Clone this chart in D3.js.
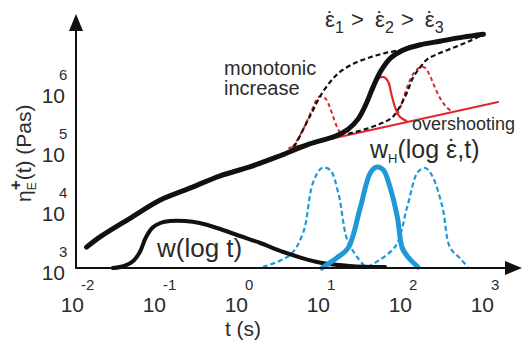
<!DOCTYPE html>
<html><head><meta charset="utf-8">
<script src="https://cdn.jsdelivr.net/npm/d3@7"></script>
<style>
body{margin:0;background:#fff}
svg{display:block}
text{font-family:"Liberation Sans",Arial,sans-serif;fill:#2b2b2b}
</style>
</head><body><svg id="c" width="522" height="347"></svg>
<script>
// ---- data (x: log10 t [s], y: log10 eta [Pa s]; weights: relative 0..1) ----
const xTickExps = [-2, -1, 0, 1, 2, 3];
const yTickExps = [3, 4, 5, 6];

const etaRate2 = [[-1.92,3.37],[-1.76,3.54],[-1.39,3.86],[-1.02,4.17],[-0.66,4.37],[-0.29,4.58],[0.07,4.73],[0.44,4.92],[0.80,5.12],[1.11,5.25],[1.27,5.37],[1.39,5.54],[1.49,5.80],[1.57,6.07],[1.67,6.36],[1.79,6.58],[1.94,6.71],[2.15,6.80],[2.39,6.86],[2.67,6.93],[2.92,6.98]];
const etaRate1 = [[0.54,4.97],[0.63,5.12],[0.73,5.39],[0.83,5.66],[0.93,5.93],[1.05,6.17],[1.17,6.34],[1.35,6.49],[1.54,6.59],[1.72,6.66],[1.90,6.71],[2.02,6.76]];
const etaRate3 = [[1.27,5.29],[1.48,5.37],[1.66,5.46],[1.80,5.56],[1.90,5.75],[1.99,6.00],[2.06,6.24],[2.15,6.42],[2.24,6.56],[2.39,6.66],[2.57,6.76],[2.73,6.85],[2.88,6.95]];
const lveLine = [[0.55,5.05],[3.10,5.83]];
const overshoot1 = [[0.54,4.97],[0.63,5.14],[0.73,5.39],[0.83,5.70],[0.90,5.90],[0.95,5.93],[1.00,5.88],[1.05,5.73],[1.10,5.53],[1.15,5.36],[1.21,5.25]];
const overshoot2 = [[1.17,5.25],[1.29,5.41],[1.39,5.54],[1.46,5.71],[1.54,5.95],[1.60,6.15],[1.66,6.25],[1.71,6.25],[1.76,6.17],[1.80,5.95],[1.85,5.71],[1.90,5.58],[1.98,5.51]];
const overshoot3 = [[1.87,5.61],[1.93,5.83],[2.00,6.12],[2.07,6.32],[2.15,6.42],[2.21,6.41],[2.27,6.27],[2.33,6.07],[2.39,5.90],[2.46,5.76],[2.54,5.66]];

const wLogT = [[-1.60,0.00],[-1.46,0.02],[-1.35,0.07],[-1.27,0.16],[-1.20,0.30],[-1.12,0.40],[-1.02,0.45],[-0.90,0.47],[-0.72,0.47],[-0.54,0.45],[-0.33,0.40],[-0.05,0.32],[0.20,0.25],[0.48,0.16],[0.89,0.06],[1.29,0.02],[1.72,0.01]];
const wH1 = [[0.23,0.01],[0.56,0.13],[0.72,0.35],[0.84,0.85],[0.95,1.00],[1.05,0.98],[1.15,0.75],[1.26,0.28],[1.38,0.11],[1.48,0.01]];
const wH2 = [[0.95,0.00],[1.13,0.10],[1.27,0.20],[1.42,0.61],[1.54,0.95],[1.62,1.01],[1.70,0.98],[1.78,0.81],[1.87,0.51],[1.93,0.20],[2.00,0.11],[2.12,0.01]];
const wH3 = [[1.51,0.01],[1.84,0.21],[1.99,0.61],[2.12,0.96],[2.21,1.00],[2.29,0.93],[2.42,0.61],[2.51,0.21],[2.63,0.10],[2.73,0.01]];

// ---- scales ----
const x = d3.scaleLinear().domain([-2, 3]).range([80, 490]);
const y = d3.scaleLinear().domain([3, 6]).range([269, 92]);
const yW = d3.scaleLinear().domain([0, 1]).range([268, 168]);

const svg = d3.select("#c");
const BLACK = "#111", RED = "#e0262b", BLUE = "#1f98d8";

const lineEta = d3.line().x(d => x(d[0])).y(d => y(d[1])).curve(d3.curveCatmullRom.alpha(0.5));
const lineW = d3.line().x(d => x(d[0])).y(d => yW(d[1])).curve(d3.curveCatmullRom.alpha(0.5));

function path(gen, data, color, width, dash) {
  const p = svg.append("path").attr("d", gen(data)).attr("fill", "none")
    .attr("stroke", color).attr("stroke-width", width)
    .attr("stroke-linecap", "round").attr("stroke-linejoin", "round");
  if (dash) p.attr("stroke-dasharray", dash).attr("stroke-linecap", "butt");
  return p;
}

// weight distributions
path(lineW, wH1, BLUE, 2.2, "5,3");
path(lineW, wH3, BLUE, 2.2, "5,3");
path(lineW, wLogT, BLACK, 4);
path(lineW, wH2, BLUE, 5);

// axes
svg.append("line").attr("x1", 76).attr("y1", 269).attr("x2", 76).attr("y2", 28)
  .attr("stroke", BLACK).attr("stroke-width", 2);
svg.append("path").attr("d", "M76,14 L69,31 L83,31 Z").attr("fill", BLACK);
svg.append("line").attr("x1", 75).attr("y1", 268).attr("x2", 508).attr("y2", 268)
  .attr("stroke", BLACK).attr("stroke-width", 2);
svg.append("path").attr("d", "M522,268 L505,261 L505,275 Z").attr("fill", BLACK);

// red overshoot / LVE
path(lineEta, lveLine, RED, 2);
path(lineEta, overshoot1, RED, 2, "4,3");
path(lineEta, overshoot3, RED, 2, "4,3");
path(lineEta, overshoot2, RED, 2.2);

// stress growth curves
path(lineEta, etaRate1, BLACK, 2.2, "5,3");
path(lineEta, etaRate3, BLACK, 2.2, "5,3");
path(lineEta, etaRate2, BLACK, 5);

// tick labels x
const xt = svg.append("g");
xTickExps.forEach(e => {
  const p = x(e);
  xt.append("text").attr("x", p + 4).attr("y", 312).attr("text-anchor", "end")
    .attr("font-size", 21).text("10");
  xt.append("text").attr("x", p + 1).attr("y", 290).attr("text-anchor", "start")
    .attr("font-size", 15).text(e < 0 ? "-" + Math.abs(e) : String(e));
});
// tick labels y
const yt = svg.append("g");
yTickExps.forEach(e => {
  const p = y(e);
  yt.append("text").attr("x", 65).attr("y", p + 10.5).attr("text-anchor", "end")
    .attr("font-size", 21).text("10");
  yt.append("text").attr("x", 59).attr("y", p - 12.5).attr("text-anchor", "start")
    .attr("font-size", 15).text(String(e));
});

// axis titles
svg.append("text").attr("x", 243).attr("y", 336).attr("text-anchor", "middle")
  .attr("font-size", 21).text("t (s)");

const yl = svg.append("text").attr("transform", "translate(31,202) rotate(-90)")
  .attr("font-size", 21);
yl.append("tspan").text("η");
yl.append("tspan").attr("font-size", 12).attr("dy", 5).text("E");
yl.append("tspan").attr("font-size", 17).attr("dx", -8).attr("dy", -15).attr("font-weight", "bold").text("+");
yl.append("tspan").attr("dy", 10).text("(t) (Pas)");

// epsilon with dot above (dot glyph shifted back over the epsilon)
function epsDot(t, size, dx) {
  t.append("tspan").attr("dx", dx || 0).text("ε");
  t.append("tspan").attr("dx", -0.37 * size).text("\u02D9");
}

// annotations
const rates = svg.append("text").attr("x", 325).attr("y", 27).attr("font-size", 22);
[["1", " >"], ["2", " >"], ["3", ""]].forEach(([s, tail], i) => {
  epsDot(rates, 22, i === 0 ? 0 : 11);
  rates.append("tspan").attr("font-size", 16).attr("dx", 1).attr("dy", 6).text(s);
  if (tail) rates.append("tspan").attr("dx", 1).attr("dy", -6).text(tail);
});

svg.append("text").attr("x", 224).attr("y", 75).attr("font-size", 20).text("monotonic");
svg.append("text").attr("x", 224).attr("y", 95).attr("font-size", 20).text("increase");
svg.append("text").attr("x", 412).attr("y", 130).attr("font-size", 18).text("overshooting");

svg.append("text").attr("x", 157).attr("y", 257).attr("font-size", 26).text("w(log t)");

const wh = svg.append("text").attr("x", 370).attr("y", 158).attr("font-size", 25);
wh.append("tspan").text("w");
wh.append("tspan").attr("font-size", 13).attr("dy", 5).text("H");
wh.append("tspan").attr("dy", -5).text("(log ");
epsDot(wh, 25);
wh.append("tspan").attr("dx", 1).text(",t)");
</script>
</body></html>
